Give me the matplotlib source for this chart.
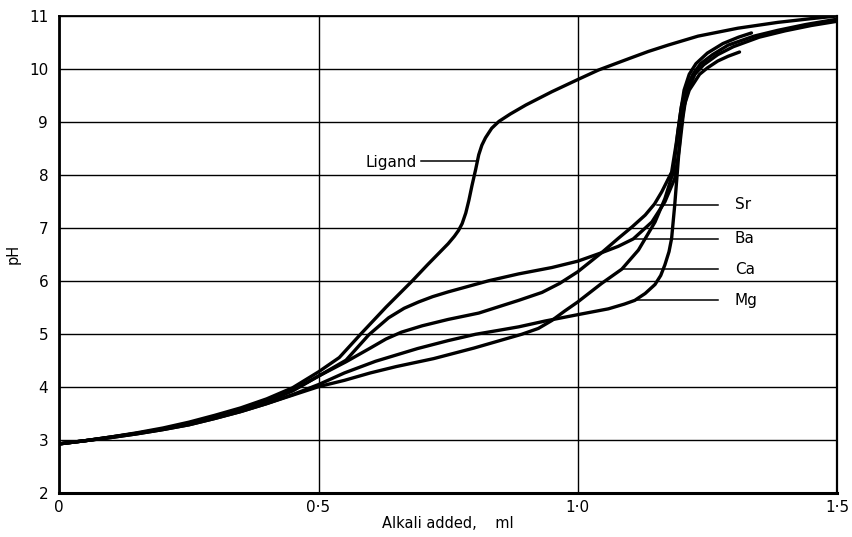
import numpy as np
import matplotlib.pyplot as plt

# titration curves: pH vs alkali added (ml)

ligand_x = [0.0, 0.05, 0.1, 0.15, 0.2, 0.25, 0.3, 0.35, 0.4, 0.45, 0.5, 0.54, 0.582,
            0.63, 0.681, 0.71, 0.733, 0.75, 0.762, 0.77, 0.777, 0.784, 0.79, 0.796,
            0.803, 0.809, 0.815, 0.822, 0.834, 0.848, 0.87, 0.9, 0.95, 1.0, 1.04, 1.1,
            1.136, 1.174, 1.232, 1.309, 1.386, 1.45, 1.5]
ligand_ph = [2.92, 2.98, 3.05, 3.13, 3.22, 3.33, 3.46, 3.6, 3.77, 3.98, 4.28, 4.55, 5.0,
             5.5, 6.0, 6.3, 6.53, 6.7, 6.84, 6.95, 7.08, 7.28, 7.52, 7.8,
             8.1, 8.38, 8.56, 8.7, 8.88, 9.01, 9.15, 9.32, 9.57, 9.8, 9.98, 10.2,
             10.33, 10.45, 10.62, 10.77, 10.88, 10.95, 11.0]

ba_x = [0, 0.05, 0.1, 0.15, 0.2, 0.25, 0.3, 0.35, 0.4, 0.45, 0.5, 0.553, 0.597, 0.635,
        0.665, 0.693, 0.72, 0.75, 0.828, 0.886, 0.95, 1.0, 1.046, 1.078, 1.107, 1.143,
        1.168, 1.187, 1.196, 1.203, 1.21, 1.226, 1.243, 1.27, 1.3, 1.35, 1.4, 1.45, 1.5]
ba_ph = [2.92, 2.98, 3.05, 3.12, 3.2, 3.3, 3.42, 3.56, 3.72, 3.92, 4.2, 4.5, 4.98, 5.3,
         5.48, 5.6, 5.7, 5.79, 6.0, 6.13, 6.25, 6.37, 6.53, 6.65, 6.79, 7.11,
         7.49, 7.93, 8.5, 9.1, 9.55, 9.9, 10.08, 10.27, 10.42, 10.6, 10.72, 10.82, 10.9]

sr_x = [0, 0.05, 0.1, 0.15, 0.2, 0.25, 0.3, 0.35, 0.4, 0.45, 0.5, 0.553, 0.6, 0.63,
        0.66, 0.7, 0.75, 0.809, 0.886, 0.931, 0.965, 1.0, 1.046, 1.078, 1.105, 1.13,
        1.148, 1.162, 1.181, 1.19, 1.197, 1.205, 1.215, 1.228, 1.25, 1.28, 1.31, 1.335]
sr_ph = [2.92, 2.98, 3.05, 3.12, 3.2, 3.3, 3.42, 3.56, 3.72, 3.93, 4.2, 4.47, 4.73, 4.9,
         5.03, 5.15, 5.27, 5.39, 5.63, 5.78, 5.95, 6.17, 6.53, 6.8, 7.02, 7.24,
         7.45, 7.68, 8.05, 8.6, 9.1, 9.6, 9.9, 10.1, 10.3, 10.48, 10.6, 10.68]

mg_x = [0, 0.05, 0.1, 0.15, 0.2, 0.25, 0.3, 0.35, 0.4, 0.45, 0.5, 0.55, 0.61, 0.691,
        0.75, 0.803, 0.845, 0.886, 0.937, 1.0, 1.059, 1.09, 1.11, 1.13, 1.149, 1.16,
        1.168, 1.176, 1.181, 1.187, 1.192, 1.198, 1.205, 1.215, 1.235, 1.25, 1.27,
        1.29, 1.312]
mg_ph = [2.92, 2.98, 3.04, 3.11, 3.19, 3.28, 3.4, 3.53, 3.68, 3.85, 4.04, 4.26, 4.48, 4.72,
         4.87, 4.99, 5.06, 5.13, 5.24, 5.36, 5.47, 5.56, 5.63, 5.76, 5.93, 6.1,
         6.3, 6.55, 6.8, 7.43, 8.05, 8.8, 9.3, 9.6, 9.9, 10.02, 10.15,
         10.24, 10.32]

ca_x = [0, 0.05, 0.1, 0.15, 0.2, 0.25, 0.3, 0.35, 0.4, 0.45, 0.5, 0.55, 0.6, 0.65,
        0.722, 0.8, 0.892, 0.924, 0.95, 0.975, 1.0, 1.046, 1.085, 1.117, 1.149, 1.168,
        1.184, 1.193, 1.2, 1.208, 1.222, 1.237, 1.26, 1.29, 1.34, 1.386, 1.44, 1.5]
ca_ph = [2.92, 2.98, 3.04, 3.11, 3.19, 3.28, 3.4, 3.53, 3.68, 3.84, 4.0, 4.12, 4.26, 4.38,
         4.53, 4.73, 4.99, 5.1, 5.25, 5.43, 5.6, 5.95, 6.22, 6.58, 7.11, 7.55,
         8.05, 8.8, 9.3, 9.6, 9.9, 10.1, 10.27, 10.45, 10.62, 10.73, 10.84, 10.94]

# label leader lines: (x where it meets the curve, pH)
labels = ["Sr", "Ba", "Ca", "Mg"]
leader_x0 = [1.152, 1.107, 1.085, 1.11]
leader_ph = [7.44, 6.79, 6.22, 5.63]
leader_x1 = 1.27

x_ticks = [0, 0.5, 1.0, 1.5]
x_ticklabels = ["0", "0\u00b75", "1\u00b70", "1\u00b75"]
y_ticks = list(range(2, 12))

fig = plt.figure(figsize=(8.52, 5.37), dpi=100)
ax = fig.add_axes([0.0696, 0.0827, 0.9128, 0.8875])

for xs, ys in [(ligand_x, ligand_ph), (ba_x, ba_ph), (sr_x, sr_ph),
               (mg_x, mg_ph), (ca_x, ca_ph)]:
    ax.plot(xs, ys, color="black", lw=2.4, solid_capstyle="round",
            solid_joinstyle="round", zorder=3)

for lab, x0, ph in zip(labels, leader_x0, leader_ph):
    ax.plot([x0, leader_x1], [ph, ph], color="black", lw=1.1, zorder=2)
    ax.text(leader_x1 + 0.033, ph, lab, fontsize=11, va="center", ha="left")

# ligand label
ax.plot([0.697, 0.803], [8.26, 8.26], color="black", lw=1.1, zorder=2)
ax.text(0.69, 8.24, "Ligand", fontsize=11, va="center", ha="right")

ax.set_xlim(0, 1.5)
ax.set_ylim(2, 11)
ax.set_xticks(x_ticks)
ax.set_xticklabels(x_ticklabels)
ax.set_yticks(y_ticks)
ax.tick_params(axis="y", length=0, labelsize=11, pad=8)
ax.tick_params(axis="x", length=0, labelsize=11, pad=5)
ax.grid(True, color="black", lw=1.0)
ax.set_axisbelow(True)

for side, w in [("left", 2.0), ("bottom", 2.2), ("top", 1.3), ("right", 1.6)]:
    ax.spines[side].set_linewidth(w)
    ax.spines[side].set_color("black")

ax.set_xlabel("Alkali added,    ml", fontsize=10.5, labelpad=1)
ax.set_ylabel("pH", fontsize=10.5, labelpad=6)

fig.savefig("out.png", dpi=100)
